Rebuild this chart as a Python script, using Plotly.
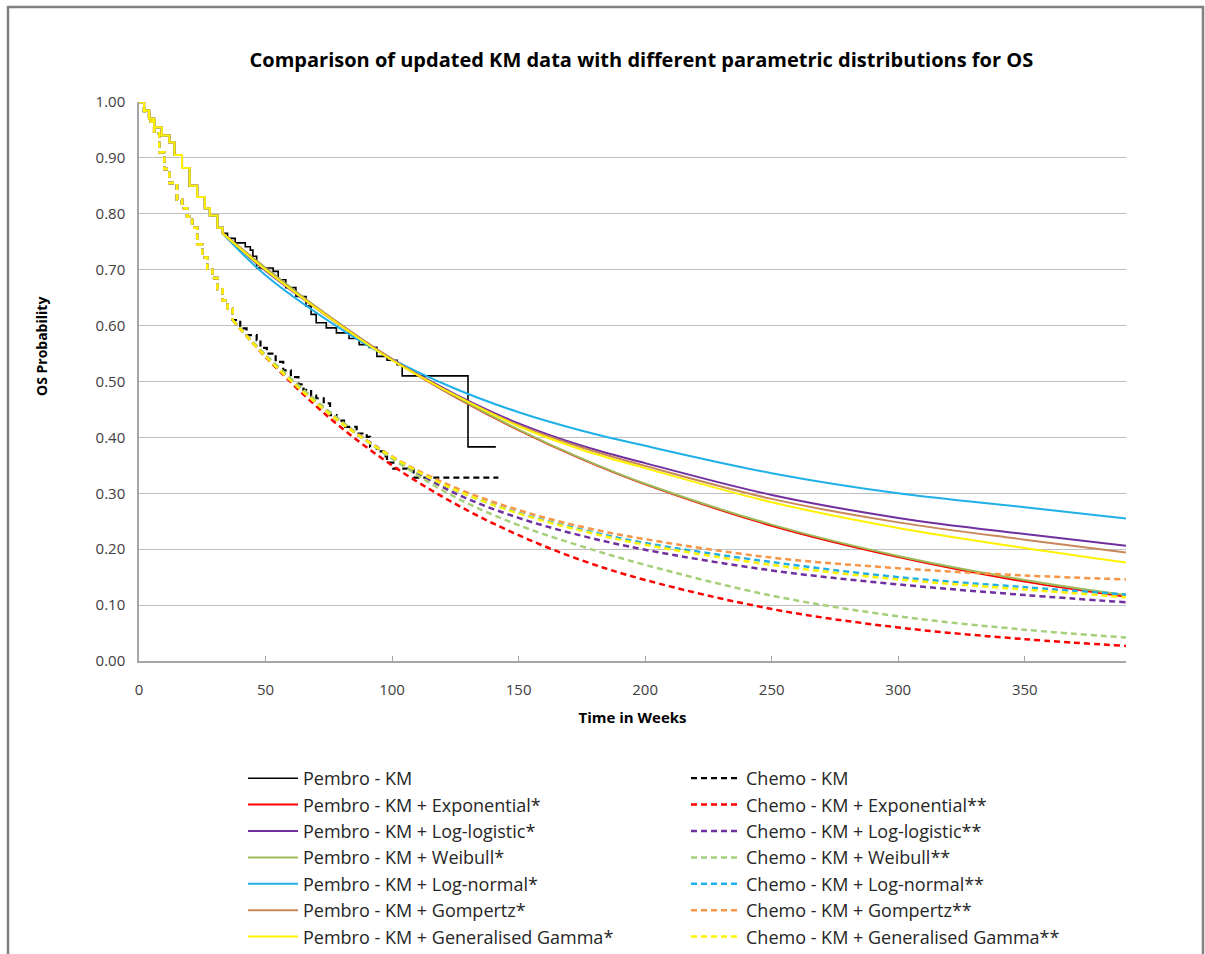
import plotly.graph_objects as go

# ---------------- data ----------------
pembro_km_t = [0, 2, 4, 6, 9, 12, 14, 17, 20, 23, 26, 28, 31, 33, 35, 38, 42, 44, 45, 46.5, 53, 55, 58,
               62, 66, 68, 70, 74, 78, 83, 87, 91, 94, 98, 102, 104, 130, 141]
pembro_km_s = [1.0, 0.985, 0.97, 0.955, 0.94, 0.928, 0.905, 0.882, 0.85, 0.83, 0.81, 0.797, 0.775, 0.765,
               0.756, 0.748, 0.741, 0.735, 0.724, 0.703, 0.697, 0.682, 0.668, 0.652, 0.635, 0.62, 0.605,
               0.596, 0.587, 0.577, 0.566, 0.561, 0.545, 0.538, 0.530, 0.510, 0.383, 0.383]

chemo_km_t = [0, 2, 4, 6, 8, 10, 12, 15, 17, 19, 21, 23, 25, 27, 29, 31, 33, 35, 37, 40, 42.5, 46.5, 48,
              50.5, 54, 57, 60, 63, 65, 68, 70, 73, 75.5, 78, 81, 86, 90, 91.3, 94, 96.6, 98, 100.5,
              107, 108.5, 142]
chemo_km_s = [1.0, 0.984, 0.965, 0.944, 0.91, 0.88, 0.855, 0.825, 0.81, 0.795, 0.775, 0.745, 0.722, 0.70,
              0.685, 0.665, 0.645, 0.63, 0.61, 0.595, 0.583, 0.574, 0.56, 0.55, 0.535, 0.52, 0.508,
              0.495, 0.485, 0.475, 0.47, 0.461, 0.44, 0.43, 0.419, 0.407, 0.401, 0.383, 0.375, 0.366,
              0.355, 0.344, 0.342, 0.328, 0.328]

pembro_cut = 33
chemo_cut = 37

pembro_fit_t = [33, 50, 75, 100, 125, 150, 175, 200, 250, 300, 350, 390]
pembro_exp = [0.765, 0.703, 0.615, 0.539, 0.472, 0.413, 0.361, 0.316, 0.242, 0.186, 0.142, 0.115]
pembro_loglogistic = [0.765, 0.698, 0.615, 0.540, 0.477, 0.425, 0.385, 0.354, 0.297, 0.256, 0.227, 0.206]
pembro_weibull = [0.765, 0.703, 0.617, 0.540, 0.473, 0.414, 0.362, 0.317, 0.244, 0.188, 0.145, 0.118]
pembro_lognormal = [0.765, 0.690, 0.608, 0.540, 0.487, 0.445, 0.412, 0.385, 0.336, 0.300, 0.275, 0.255]
pembro_gompertz = [0.765, 0.700, 0.617, 0.540, 0.475, 0.422, 0.382, 0.349, 0.290, 0.248, 0.217, 0.194]
pembro_gengamma = [0.765, 0.700, 0.615, 0.538, 0.475, 0.420, 0.378, 0.345, 0.284, 0.238, 0.202, 0.176]

chemo_fit_t = [37, 50, 75, 100, 125, 150, 175, 200, 250, 300, 350, 390]
chemo_exp = [0.61, 0.544, 0.436, 0.350, 0.281, 0.225, 0.180, 0.145, 0.093, 0.060, 0.039, 0.027]
chemo_loglogistic = [0.61, 0.546, 0.445, 0.365, 0.300, 0.256, 0.224, 0.199, 0.162, 0.137, 0.118, 0.105]
chemo_weibull = [0.61, 0.548, 0.447, 0.362, 0.293, 0.243, 0.205, 0.172, 0.117, 0.080, 0.056, 0.042]
chemo_lognormal = [0.61, 0.545, 0.443, 0.365, 0.306, 0.265, 0.235, 0.211, 0.177, 0.150, 0.132, 0.119]
chemo_gompertz = [0.61, 0.545, 0.443, 0.366, 0.310, 0.270, 0.240, 0.218, 0.185, 0.166, 0.153, 0.146]
chemo_gengamma = [0.61, 0.545, 0.443, 0.365, 0.306, 0.264, 0.233, 0.208, 0.172, 0.146, 0.128, 0.114]

dist_names = ["Exponential", "Log-logistic", "Weibull", "Log-normal", "Gompertz", "Generalised Gamma"]
pembro_fits = [pembro_exp, pembro_loglogistic, pembro_weibull, pembro_lognormal, pembro_gompertz, pembro_gengamma]
chemo_fits = [chemo_exp, chemo_loglogistic, chemo_weibull, chemo_lognormal, chemo_gompertz, chemo_gengamma]
pembro_colors = ["#FF0000", "#7030A0", "#9BBB59", "#1FB0E8", "#C8875A", "#FFF200"]
chemo_colors = ["#FF0000", "#7030A0", "#A6CF7A", "#1FB0E8", "#F79646", "#FFF200"]

FONT = "Open Sans"
fig = go.Figure()

def km_prefix(ts, ss, cut):
    px = [t for t in ts if t <= cut]
    py = ss[:len(px)]
    return px, py

# draw order follows the Excel series order (interleaved)
fig.add_trace(go.Scatter(x=pembro_km_t, y=pembro_km_s, mode="lines", line=dict(color="#000000", width=1.6, shape="hv"),
                         name="Pembro - KM", legend="legend", legendgroup="p0"))
fig.add_trace(go.Scatter(x=chemo_km_t, y=chemo_km_s, mode="lines",
                         line=dict(color="#000000", width=2.2, shape="hv", dash="6px,4px"),
                         name="Chemo - KM", legend="legend2", legendgroup="c0"))

for i, nm in enumerate(dist_names):
    # Pembro
    px, py = km_prefix(pembro_km_t, pembro_km_s, pembro_cut)
    fig.add_trace(go.Scatter(x=px, y=py, mode="lines", line=dict(color=pembro_colors[i], width=2, shape="hv"),
                             showlegend=False, legend="legend", legendgroup=f"p{i+1}", hoverinfo="skip"))
    fig.add_trace(go.Scatter(x=pembro_fit_t, y=pembro_fits[i], mode="lines",
                             line=dict(color=pembro_colors[i], width=2, shape="spline"),
                             name=f"Pembro - KM + {nm}*", legend="legend", legendgroup=f"p{i+1}"))
    # Chemo
    cx, cy = km_prefix(chemo_km_t, chemo_km_s, chemo_cut)
    fig.add_trace(go.Scatter(x=cx, y=cy, mode="lines",
                             line=dict(color=chemo_colors[i], width=2.5, shape="hv", dash="6px,4px"),
                             showlegend=False, legend="legend2", legendgroup=f"c{i+1}", hoverinfo="skip"))
    fig.add_trace(go.Scatter(x=chemo_fit_t, y=chemo_fits[i], mode="lines",
                             line=dict(color=chemo_colors[i], width=2.5, shape="spline", dash="6px,4px"),
                             name=f"Chemo - KM + {nm}**", legend="legend2", legendgroup=f"c{i+1}"))

legend_common = dict(orientation="v", xanchor="left", yanchor="top", xref="container", yref="container",
                     font=dict(family=FONT, size=18, color="#262626"),
                     tracegroupgap=0, itemwidth=50, bgcolor="rgba(0,0,0,0)", traceorder="grouped")

fig.update_layout(
    width=1205, height=954,
    margin=dict(l=139, r=79, t=102, b=293, autoexpand=False),
    paper_bgcolor="white", plot_bgcolor="white",
    font=dict(family=FONT, color="#404040"),
    title=dict(text="<b>Comparison of updated KM data with different parametric distributions for OS</b>",
               x=0.509, xref="paper", xanchor="center", y=1 - 60 / 954, yanchor="middle",
               font=dict(family=FONT, size=20, color="#000000")),
    xaxis=dict(range=[0, 390], tickvals=[0, 50, 100, 150, 200, 250, 300, 350], showgrid=False,
               showline=True, linecolor="#A6A6A6", linewidth=1.5, ticks="inside", ticklen=5, tickcolor="#A6A6A6",
               tickfont=dict(family=FONT, size=15, color="#404040"), ticklabelstandoff=14, zeroline=False,
               title=dict(text="<b>Time in Weeks</b>", font=dict(family=FONT, size=15, color="#000000"), standoff=15)),
    yaxis=dict(range=[0, 1.0], dtick=0.1, tickformat=".2f", showgrid=True, gridcolor="#BFBFBF", gridwidth=1.3,
               showline=True, linecolor="#A6A6A6", linewidth=1.5, ticks="", zeroline=False,
               tickfont=dict(family=FONT, size=15, color="#404040"), ticklabelstandoff=9),
    legend=dict(x=243 / 1205, y=1 - 760 / 954, **legend_common),
    legend2=dict(x=686 / 1205, y=1 - 760 / 954, **legend_common),
    showlegend=True,
    annotations=[dict(text="<b>OS Probability</b>", xref="paper", yref="paper", x=(41 - 139) / 987,
                      y=(661 - 347) / 559, textangle=-90, showarrow=False, xanchor="center", yanchor="middle",
                      font=dict(family=FONT, size=14, color="#000000"))],
    shapes=[dict(type="rect", xref="paper", yref="paper", x0=(8 - 139) / 987, x1=(1203 - 139) / 987,
                 y0=(661 - 990) / 559, y1=(661 - 7) / 559, line=dict(color="#808080", width=2.5),
                 fillcolor="rgba(0,0,0,0)", layer="below")],
)

fig.write_html("out.html")
